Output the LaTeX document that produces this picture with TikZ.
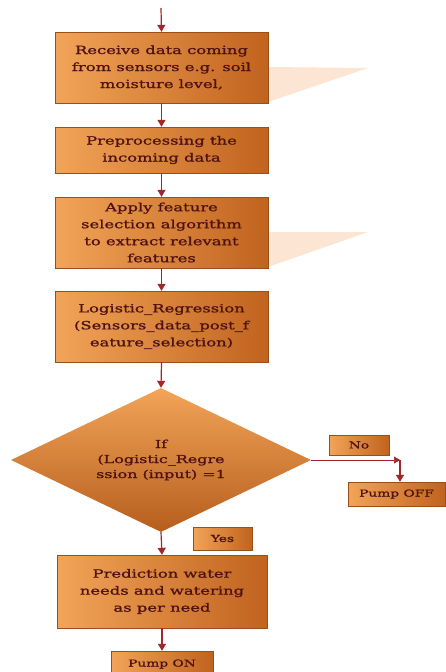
\documentclass[tikz,border=0pt]{standalone}
\usepackage{fontspec}
\setmainfont[FakeStretch=1.45,FakeBold=1.2]{DejaVu Serif}
\usetikzlibrary{shapes.geometric,arrows.meta}
\definecolor{orlight}{HTML}{F2A458}
\definecolor{ordark}{HTML}{C0631F}
\definecolor{txtcol}{HTML}{4E1212}
\definecolor{arrcol}{HTML}{A3262A}
\definecolor{peach}{HTML}{FCE5D2}
\tikzset{
  procbox/.style={rectangle, left color=orlight, right color=ordark, draw=ordark!80!black, line width=0.3pt,
    text=txtcol, align=center, inner sep=0pt, font=\fontsize{11.3}{17}\selectfont},
  smallbox/.style={procbox, font=\fontsize{9.5}{12}\selectfont},
  decide/.style={diamond, aspect=2, top color=orlight, bottom color=ordark!95!black, draw=none,
    text=txtcol, align=center, inner sep=0pt, minimum width=300pt, minimum height=144pt,
    font=\fontsize{11}{15}\selectfont},
  flow/.style={draw=arrcol, line width=1.2pt, -{Triangle[length=7pt,width=8pt]}},
  thinflow/.style={draw=arrcol, line width=0.7pt, -{Triangle[length=6pt,width=7pt]}},
  tri/.style={fill=peach, draw=none}
}
\begin{document}
\begin{tikzpicture}[x=1pt,y=-1pt]
\useasboundingbox (0,0) rectangle (445,672);
% decorative peach triangles
\fill[tri] (268,67) -- (368,68) -- (268,102) -- cycle;
\fill[tri] (268,232) -- (368,232) -- (268,267) -- cycle;
% nodes
\coordinate (start) at (161,8);
\node[procbox, minimum width=213pt, minimum height=71pt] (recv) at (161.5,67.5)
  {Receive data coming\\from sensors e.g. soil\\moisture level,};
\node[procbox, minimum width=213pt, minimum height=46pt] (pre) at (161.5,150)
  {Preprocessing the\\incoming data};
\node[procbox, minimum width=213pt, minimum height=71pt] (feat) at (161.5,232.5)
  {Apply feature\\selection algorithm\\to extract relevant\\features};
\node[procbox, minimum width=213pt, minimum height=71pt] (lr) at (161.5,326.5)
  {Logistic\_Regression\\(Sensors\_data\_post\_f\\eature\_selection)};
\node[decide] (dec) at (161,460)
  {If\\(Logistic\_Regre\\ssion (input) =1};
\node[smallbox, minimum width=60pt, minimum height=20pt] (no) at (359,445) {No};
\coordinate (turn) at (400,460);
\node[smallbox, minimum width=97pt, minimum height=24pt] (off) at (396.5,494) {Pump OFF};
\node[smallbox, minimum width=59pt, minimum height=23pt] (yes) at (222.5,538.5) {Yes};
\node[procbox, minimum width=210pt, minimum height=73pt] (pred) at (162,591.5)
  {Prediction water\\needs and watering\\as per need};
\node[smallbox, minimum width=102pt, minimum height=26pt] (on) at (162,664) {Pump ON};
% connectors
\draw[flow] (start) -- (recv.north);
\draw[flow] (recv.south) -- (pre.north);
\draw[flow] (pre.south) -- (feat.north);
\draw[flow] (feat.south) -- (lr.north);
\draw[flow] (lr.south) -- (dec.north);
\draw[thinflow] (dec.east) -- (turn);
\draw[flow] (turn) -- (off.north -| turn);
\draw[flow] (dec.south) -- (pred.north);
\draw[flow] (pred.south) -- (on.north);
\end{tikzpicture}
\end{document}
